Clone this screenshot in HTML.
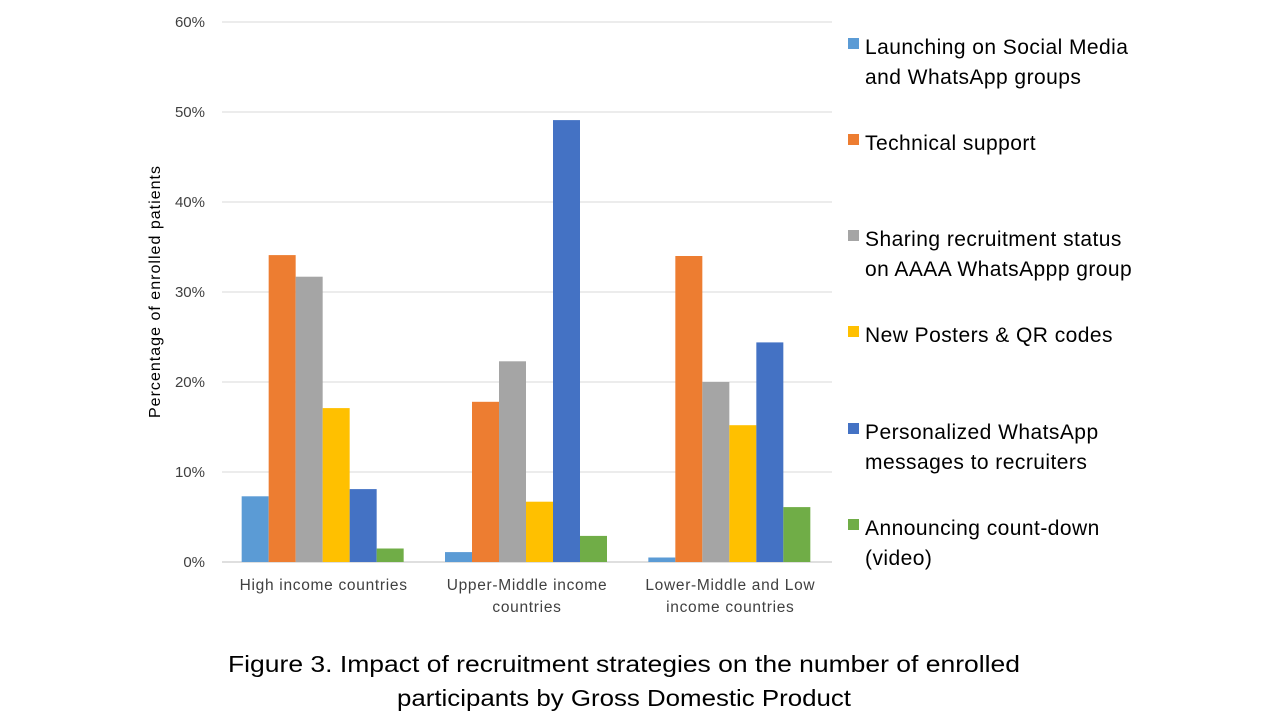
<!DOCTYPE html>
<html><head><meta charset="utf-8"><style>
body{margin:0;background:#fff;}
svg text{font-family:"Liberation Sans",sans-serif;}
</style></head><body>
<svg width="1280" height="720" xmlns="http://www.w3.org/2000/svg">
<g id="grid"></g>
<g id="bars"></g>
<g id="ylabels"></g>
<g id="xlabels"></g>
<text transform="translate(160,292) rotate(-90)" text-anchor="middle" font-size="16" fill="#000" textLength="252" lengthAdjust="spacing">Percentage of enrolled patients</text>
<g id="legend"></g>
<text x="228" y="672" font-size="23" fill="#000" textLength="792" lengthAdjust="spacingAndGlyphs">Figure 3. Impact of recruitment strategies on the number of enrolled</text>
<text x="397" y="706" font-size="23" fill="#000" textLength="454" lengthAdjust="spacingAndGlyphs">participants by Gross Domestic Product</text>
</svg>
<script>
const categories=[["High income countries"],["Upper-Middle income","countries"],["Lower-Middle and Low","income countries"]];
const seriesNames=[["Launching on Social Media","and WhatsApp groups"],["Technical support"],["Sharing recruitment status","on AAAA WhatsAppp group"],["New Posters & QR codes"],["Personalized WhatsApp","messages to recruiters"],["Announcing count-down","(video)"]];
const s1=[7.3,1.1,0.5];
const s2=[34.1,17.8,34.0];
const s3=[31.7,22.3,20.0];
const s4=[17.1,6.7,15.2];
const s5=[8.1,49.1,24.4];
const s6=[1.5,2.9,6.1];
const series=[s1,s2,s3,s4,s5,s6];
const yTicks=[0,10,20,30,40,50,60];
const colors=["#5B9BD5","#ED7D31","#A5A5A5","#FFC000","#4472C4","#70AD47"];
const NS="http://www.w3.org/2000/svg";
const x0=222,x1=832,yTop=22,yBot=562,yMax=60;
const y=v=>yBot-(v/yMax)*(yBot-yTop);
const gW=(x1-x0)/categories.length,bw=27;
function mk(t,a,p){const e=document.createElementNS(NS,t);for(const k in a)e.setAttribute(k,a[k]);p.appendChild(e);return e;}
const grid=document.getElementById('grid'),yl=document.getElementById('ylabels');
yTicks.forEach(t=>{
 const l=mk('line',{x1:x0,x2:x1,y1:y(t),y2:y(t),stroke:t===0?'#bfbfbf':'#d9d9d9','stroke-width':1},grid);
 
 
 const tx=mk('text',{x:205,y:y(t)+5,'text-anchor':'end','font-size':15,fill:'#404040'},yl);
 tx.textContent=t+'%';
 
 
});
const bars=document.getElementById('bars');
categories.forEach((c,i)=>{
 const start=x0+i*gW+(gW-bw*series.length)/2-1;
 series.forEach((s,j)=>{
  const r=mk('rect',{x:start+j*bw,y:y(s[i]),width:bw,height:yBot-y(s[i]),fill:colors[j]},bars);
  
  
 });
 c.forEach((line,k)=>{
  const t=mk('text',{x:x0+i*gW+gW/2,y:590+k*22,'text-anchor':'middle','font-size':15.5,fill:'#404040','letter-spacing':0.7},document.getElementById('xlabels'));
  t.textContent=line;
  
  
 });
});
const lg=document.getElementById('legend');
const ly=[47,143,239,335,432,528];
seriesNames.forEach((n,j)=>{
 const r=mk('rect',{x:848,y:ly[j]-9,width:11,height:11,fill:colors[j]},lg);
 
 
 n.forEach((line,k)=>{
  const t=mk('text',{x:865,y:ly[j]+7+k*30,'font-size':21,fill:'#000','letter-spacing':0.45},lg);
  t.textContent=line;
  
  
 });
});
</script>
</body></html>
